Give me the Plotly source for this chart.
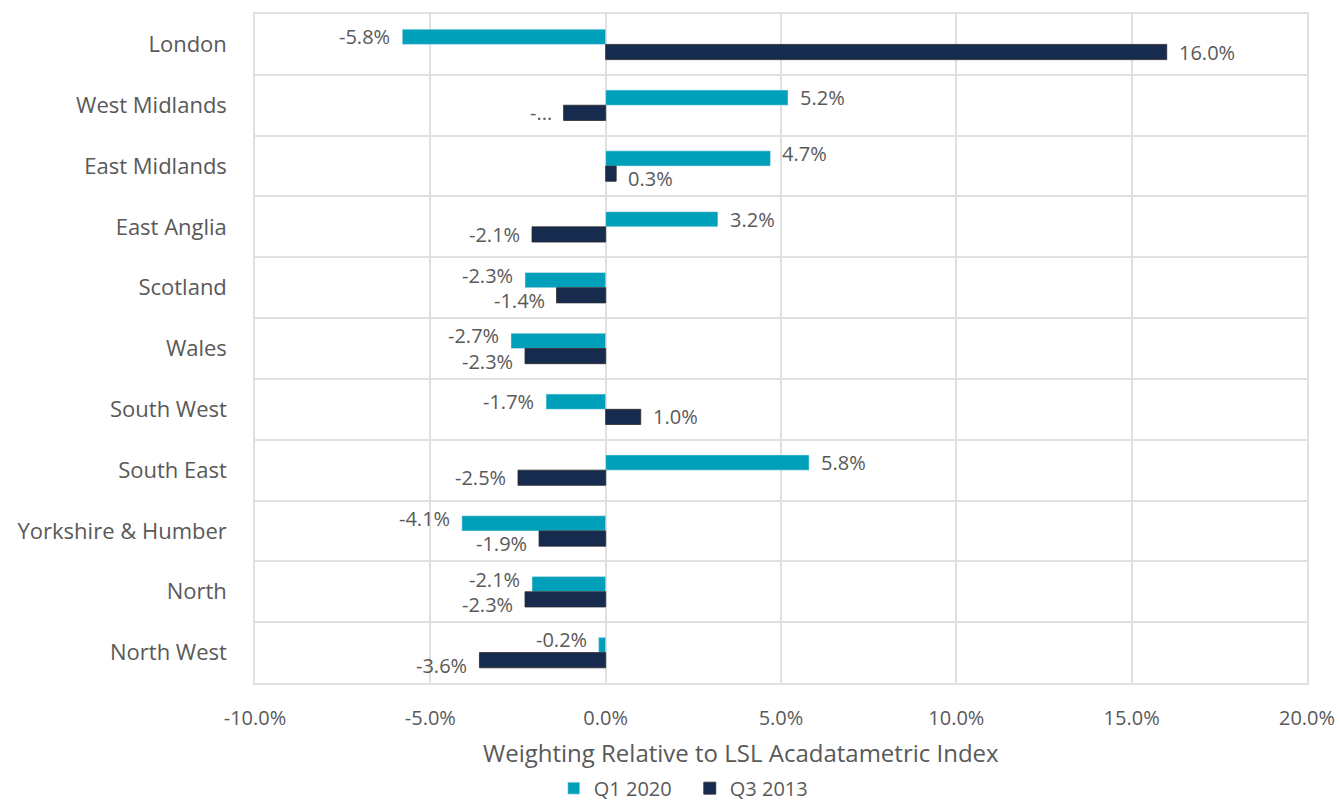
import plotly.graph_objects as go

regions = ["London", "West Midlands", "East Midlands", "East Anglia", "Scotland", "Wales",
           "South West", "South East", "Yorkshire & Humber", "North", "North West"]
q1_2020 = [-5.8, 5.2, 4.7, 3.2, -2.3, -2.7, -1.7, 5.8, -4.1, -2.1, -0.2]
q3_2013 = [16.0, -1.2, 0.3, -2.1, -1.4, -2.3, 1.0, -2.5, -1.9, -2.3, -3.6]
x_tickvals = [-10, -5, 0, 5, 10, 15, 20]
x_ticktext = ["-10.0%", "-5.0%", "0.0%", "5.0%", "10.0%", "15.0%", "20.0%"]
x_title = "Weighting Relative to LSL Acadatametric Index"
truncated_q3 = {1}  # label shown as "-..." in the source chart

FONT = "Open Sans"
GREY = "#595959"
W, H = 1340, 803
M = dict(l=255, r=33, t=14, b=120)
BARGAP = 0.5

fig = go.Figure()
fig.add_trace(go.Bar(
    y=regions, x=q1_2020, name="Q1 2020", orientation="h",
    marker=dict(color="#00A0BA"),
))
fig.add_trace(go.Bar(
    y=regions, x=q3_2013, name="Q3 2013", orientation="h",
    marker=dict(color="#172B4F", line=dict(color="#2a2a2a", width=0.8)),
))

# value labels placed just beyond each bar end
band = (H - M["t"] - M["b"]) / len(regions)
bar_off = band * (1 - BARGAP) / 4  # offset of each bar centre from the category centre
for i, reg in enumerate(regions):
    a, b = q1_2020[i], q3_2013[i]
    push = 5 if (a < 0) == (b < 0) else 0
    for v, sgn, trunc in ((a, 1, False), (b, -1, i in truncated_q3)):
        txt = "-..." if trunc else f"{v:.1f}%"
        neg = v < 0
        fig.add_annotation(
            x=v, y=reg, xref="x", yref="y", text=txt, showarrow=False,
            xanchor="right" if neg else "left", yanchor="middle",
            xshift=-10 if neg else 10, yshift=sgn * (bar_off + push),
            font=dict(family=FONT, size=20, color=GREY),
        )

fig.add_annotation(
    text=x_title, xref="paper", yref="paper", x=0.462, y=-0.1046,
    xanchor="center", yanchor="middle", showarrow=False,
    font=dict(family=FONT, size=24, color=GREY),
)

fig.update_layout(
    width=W, height=H,
    margin=dict(**M, autoexpand=False),
    barmode="group", bargap=BARGAP, bargroupgap=0,
    plot_bgcolor="white", paper_bgcolor="white",
    font=dict(family=FONT, size=20, color=GREY),
    showlegend=True,
    legend=dict(orientation="h", x=0.284, xanchor="left", y=-0.128, yanchor="top",
                font=dict(family=FONT, size=20, color=GREY), itemwidth=30,
                entrywidth=91, entrywidthmode="pixels", tracegroupgap=0),
    xaxis=dict(
        range=[-10, 20], tickvals=x_tickvals, ticktext=x_ticktext,
        showgrid=True, gridcolor="#E0E0E0", gridwidth=1.5, zeroline=False,
        showline=True, linecolor="#E0E0E0", linewidth=1.5, mirror=True,
        tickfont=dict(family=FONT, size=20, color=GREY),
        ticks="", ticklabelstandoff=16, automargin=False,
    ),
    yaxis=dict(
        autorange="reversed", type="category", tickson="boundaries",
        showgrid=True, gridcolor="#E0E0E0", gridwidth=1.5,
        showline=True, linecolor="#E0E0E0", linewidth=1.5, mirror=True,
        ticks="", tickfont=dict(family=FONT, size=22, color=GREY),
        ticklabelstandoff=22, automargin=False,
    ),
)

fig.write_html("out.html")
